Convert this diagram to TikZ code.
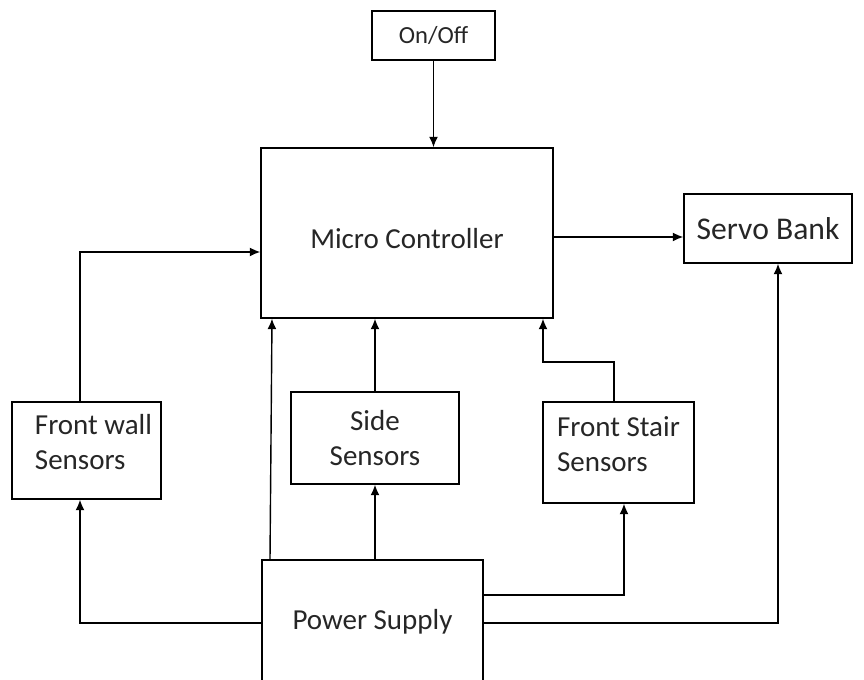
\documentclass[tikz,border=0pt]{standalone}
\usepackage{fontspec}
\setmainfont{Carlito}
\usetikzlibrary{arrows.meta}

\begin{document}
\begin{tikzpicture}[>={Latex[length=2.1mm,width=1.8mm]},line width=0.8pt,
 every node/.style={draw,rectangle,line width=0.8pt,inner sep=0pt,
 font=\fontsize{16.5}{20}\selectfont,text=black!85}]
 \useasboundingbox (0,0) rectangle (17.28,13.6);
 \clip (0,0) rectangle (17.28,13.6);
 \node[minimum width=2.46cm,minimum height=0.98cm,font=\fontsize{14}{17}\selectfont] (onoff) at (8.67,12.89) {On/Off};
 \node[minimum width=5.84cm,minimum height=3.40cm] (mc) at (8.14,8.94) {\rule{0pt}{0.62cm}Micro Controller};
 \node[minimum width=3.36cm,minimum height=1.38cm,font=\fontsize{18}{22}\selectfont] (servo) at (15.36,9.03) {Servo Bank};
 \node[minimum width=2.98cm,minimum height=1.94cm,align=left] (wall) at (1.73,4.59)
   {\hspace*{0.28cm}Front wall\\\hspace*{0.28cm}Sensors\\[-0.36cm]};
 \node[minimum width=3.36cm,minimum height=1.84cm,align=center] (side) at (7.5,4.84) {Side\\Sensors};
 \node[minimum width=3.02cm,minimum height=2.02cm,align=left] (stair) at (12.37,4.55) {Front Stair\\Sensors\\[-0.36cm]};
 \node[minimum width=4.42cm,minimum height=2.48cm] (psu) at (7.45,1.16) {Power Supply};
 % bends
 \coordinate (wallbend) at (1.6,8.56);
 \coordinate (stairbend) at (10.86,6.36);
 % into the controller
 \draw[->] (onoff) -- (onoff |- mc.north);
 \draw[->] (wall.north -| wallbend) -- (wallbend) -- (mc.west |- wallbend);
 \draw[->] (side) -- (side |- mc.south);
 \draw[->] (stair.north -| 12.28,0) |- (stairbend) -- (stairbend |- mc.south);
 \draw[->] (mc.east |- 0,8.86) -- (servo.west |- 0,8.86);
 % from the supply
 \draw[->] (psu.north -| 5.4,0) -- (mc.south -| 5.44,0);
 \draw[->] (psu.north -| side) -- (side.south);
 \draw[->] (psu.west |- 0,1.14) -| (wall.south -| wallbend);
 \draw[->] (psu.east |- 0,1.7) -| (stair.south -| 12.48,0);
 \draw[->] (psu.east |- 0,1.14) -| (servo.south -| 15.56,0);
\end{tikzpicture}
\end{document}
